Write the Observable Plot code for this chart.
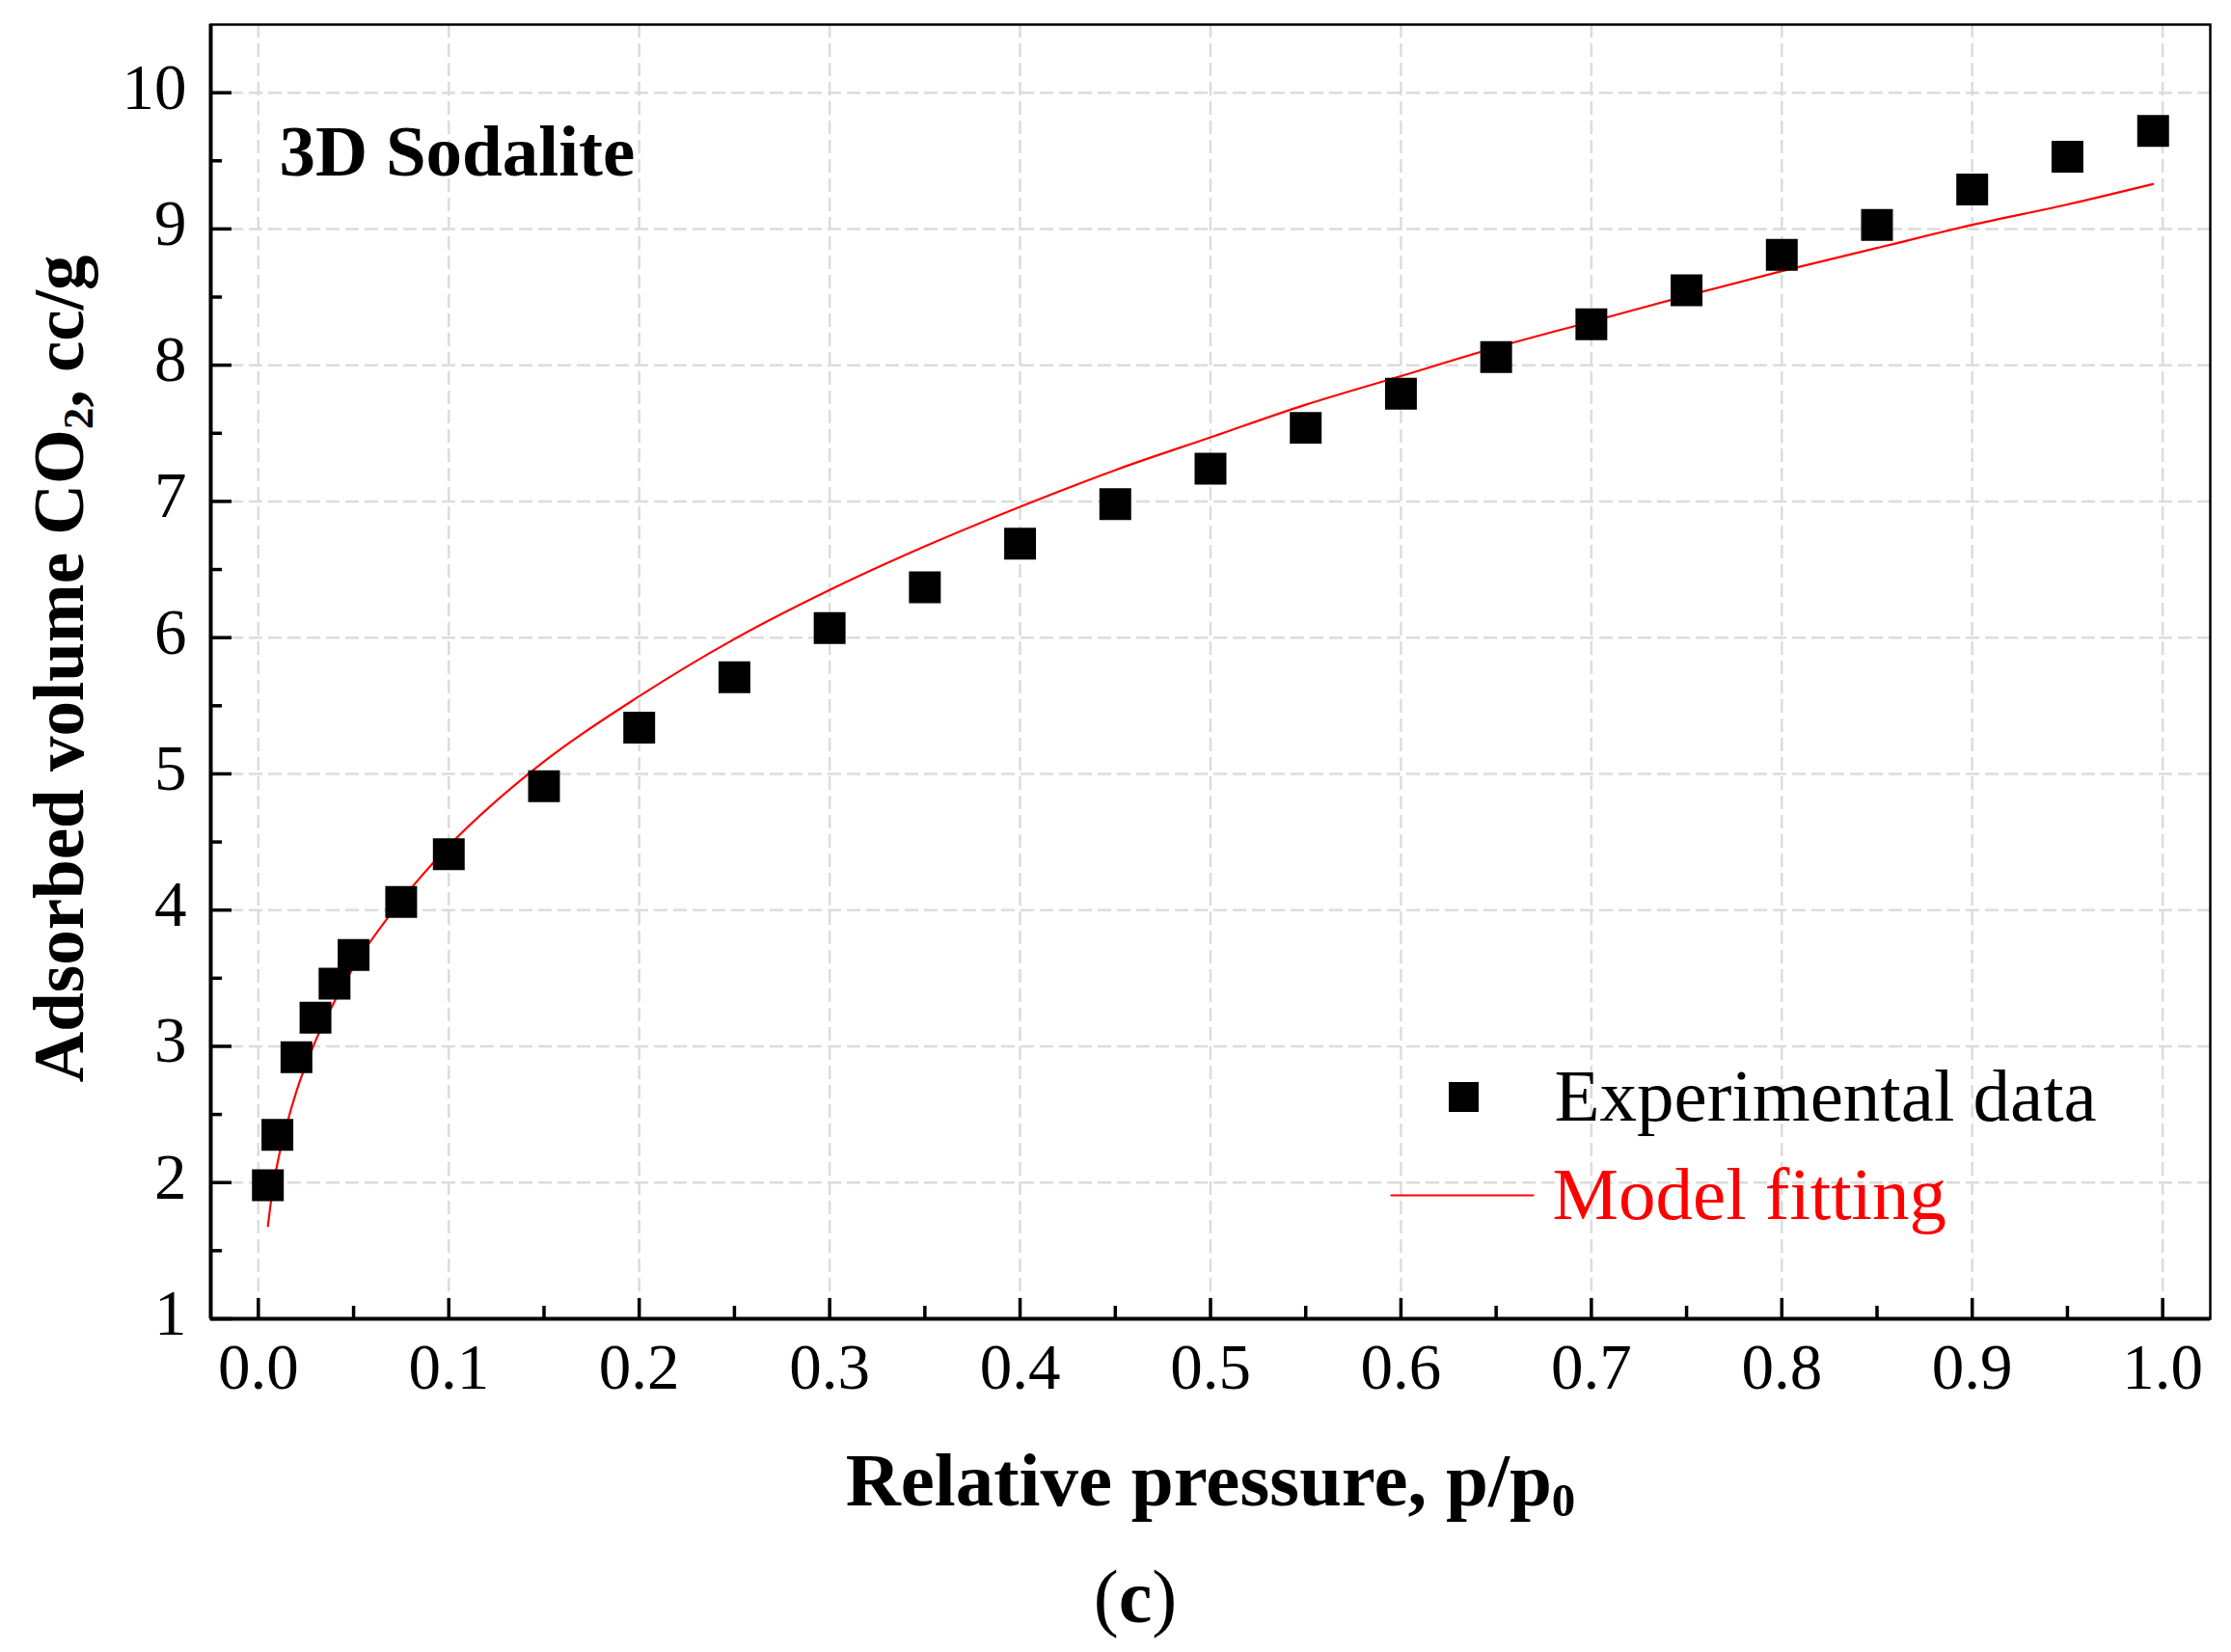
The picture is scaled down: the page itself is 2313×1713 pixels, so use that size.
<!DOCTYPE html>
<html>
<head>
<meta charset="utf-8">
<script src="https://cdn.jsdelivr.net/npm/d3@7"></script>
<script src="https://cdn.jsdelivr.net/npm/@observablehq/plot@0.6"></script>
<style>
  body { margin: 0; background: white; }
</style>
</head>
<body>
<div id="chart"></div>
<script>
// experimental isotherm points
const pressure = [0.005, 0.01, 0.02, 0.03, 0.04, 0.05, 0.075, 0.1, 0.15, 0.2, 0.25, 0.3, 0.35, 0.4, 0.45, 0.5, 0.55, 0.6, 0.65, 0.7, 0.75, 0.8, 0.85, 0.9, 0.95, 0.995];
const adsorbed = [1.98, 2.35, 2.92, 3.21, 3.46, 3.67, 4.06, 4.41, 4.91, 5.34, 5.71, 6.07, 6.37, 6.69, 6.98, 7.24, 7.54, 7.79, 8.06, 8.30, 8.55, 8.81, 9.03, 9.29, 9.53, 9.72];

// model fitting curve
const fitPressure = [0.005, 0.0075, 0.01, 0.015, 0.02, 0.03, 0.04, 0.05, 0.075, 0.1, 0.15, 0.2, 0.25, 0.3, 0.35, 0.4, 0.45, 0.5, 0.55, 0.6, 0.65, 0.7, 0.75, 0.8, 0.85, 0.9, 0.95, 0.995];
const fitVolume = [1.68, 1.95, 2.14, 2.43, 2.67, 3.04, 3.33, 3.58, 4.07, 4.47, 5.09, 5.57, 5.99, 6.35, 6.67, 6.96, 7.23, 7.47, 7.71, 7.92, 8.13, 8.32, 8.51, 8.69, 8.86, 9.03, 9.18, 9.33];

const xTicks = [0, 0.1, 0.2, 0.3, 0.4, 0.5, 0.6, 0.7, 0.8, 0.9, 1.0];
const xMinor = [0.05, 0.15, 0.25, 0.35, 0.45, 0.55, 0.65, 0.75, 0.85, 0.95];
const yTicks = [1, 2, 3, 4, 5, 6, 7, 8, 9, 10];
const yMinor = [1.5, 2.5, 3.5, 4.5, 5.5, 6.5, 7.5, 8.5, 9.5];
const xDomain = [-0.025, 1.025];
const yDomain = [1, 10.5];

const legendLabels = ["Experimental data", "Model fitting"];
const panelLabel = "3D Sodalite";

const points = pressure.map((p, i) => ({p, v: adsorbed[i]}));
const fit = fitPressure.map((p, i) => ({p, v: fitVolume[i]}));

const grid = {stroke: "#dcdcdc", strokeOpacity: 1, strokeWidth: 2.5, strokeDasharray: "14,6"};

const chart = Plot.plot({
  width: 2313,
  height: 1713,
  marginTop: 25,
  marginRight: 22,
  marginBottom: 346,
  marginLeft: 218,
  style: {fontFamily: "'Liberation Serif', serif", fontSize: "67px", color: "black", background: "white"},
  x: {domain: xDomain, label: null},
  y: {domain: yDomain, label: null},
  marks: [
    Plot.gridX(xTicks, grid),
    Plot.gridY(yTicks, grid),
    Plot.line(fit, {x: "p", y: "v", stroke: "#ff0000", strokeWidth: 2.2, curve: "monotone-x"}),
    Plot.dot(points, {x: "p", y: "v", symbol: "square", r: 18.6, fill: "black"}),
    // inward ticks
    Plot.axisX(xTicks, {tickSize: -21, strokeWidth: 3.5, tickFormat: () => "", label: null}),
    Plot.axisX(xMinor, {tickSize: -13, strokeWidth: 3.5, tickFormat: () => "", label: null}),
    Plot.axisY(yTicks, {tickSize: -22, strokeWidth: 3.5, tickFormat: () => "", label: null}),
    Plot.axisY(yMinor, {tickSize: -12, strokeWidth: 3.5, tickFormat: () => "", label: null}),
    // tick labels
    Plot.axisX(xTicks, {tickSize: 0, tickPadding: 25, tickFormat: d3.format(".1f"), label: null}),
    Plot.axisY(yTicks, {tickSize: 0, tickPadding: 25, tickFormat: d => d, label: null, dy: -5}),
    // frame
    Plot.frame({stroke: "black", strokeWidth: 2.5}),
    Plot.ruleX([xDomain[0]], {stroke: "black", strokeWidth: 4}),
    Plot.ruleY([yDomain[0]], {stroke: "black", strokeWidth: 4}),
    // axis titles
    Plot.text(["Relative pressure, p/p_0"], {frameAnchor: "bottom", lineAnchor: "middle", textAnchor: "middle", dy: 168, fontSize: 79, fontWeight: "bold"}),
    Plot.text(["Adsorbed volume CO_2, cc/g"], {frameAnchor: "left", lineAnchor: "middle", textAnchor: "middle", rotate: -90, dx: -156, dy: -3, fontSize: 73, fontWeight: "bold"}),
    Plot.text(["(c)"], {frameAnchor: "bottom", lineAnchor: "middle", textAnchor: "middle", dx: -78, dy: 290, fontSize: 78}),
    // panel label
    Plot.text([panelLabel], {frameAnchor: "top-left", lineAnchor: "middle", textAnchor: "start", dx: 71, dy: 132, fontSize: 75, fontWeight: "bold"}),
    // legend
    Plot.dot([legendLabels[0]], {frameAnchor: "bottom-right", dx: -774, dy: -230, symbol: "square", r: 17.5, fill: "black"}),
    Plot.text([legendLabels[0]], {frameAnchor: "bottom-right", lineAnchor: "middle", textAnchor: "start", dx: -680, dy: -230, fontSize: 77, fill: "black"}),
    Plot.vector([legendLabels[1]], {
      frameAnchor: "bottom-right", dx: -849, dy: -128, length: 147, rotate: 90, anchor: "start",
      stroke: "#ff0000", strokeWidth: 2.2,
      shape: {draw(context, l) { context.moveTo(0, 0); context.lineTo(0, -l); }}
    }),
    Plot.text([legendLabels[1]], {frameAnchor: "bottom-right", lineAnchor: "middle", textAnchor: "start", dx: -682, dy: -128, fontSize: 77, fill: "#ff0000"})
  ]
});

// subscripts written as _n, and the bold letter of the panel caption
d3.select(chart).selectAll("text").each(function() {
  const t = this.textContent;
  const el = d3.select(this);
  if (t === "(c)") {
    el.text(null);
    el.append("tspan").text("(");
    el.append("tspan").attr("font-weight", "bold").text("c");
    el.append("tspan").text(")");
    return;
  }
  if (!t.includes("_")) return;
  const parts = t.split(/_(\d)/);
  el.text(null);
  parts.forEach((s, i) => {
    const ts = el.append("tspan").text(s);
    if (i % 2) ts.attr("font-size", "0.62em").attr("dy", "0.22em");
    else if (i > 0) ts.attr("dy", "-0.137em");
  });
});

d3.select("#chart").append(() => chart);
</script>
</body>
</html>
